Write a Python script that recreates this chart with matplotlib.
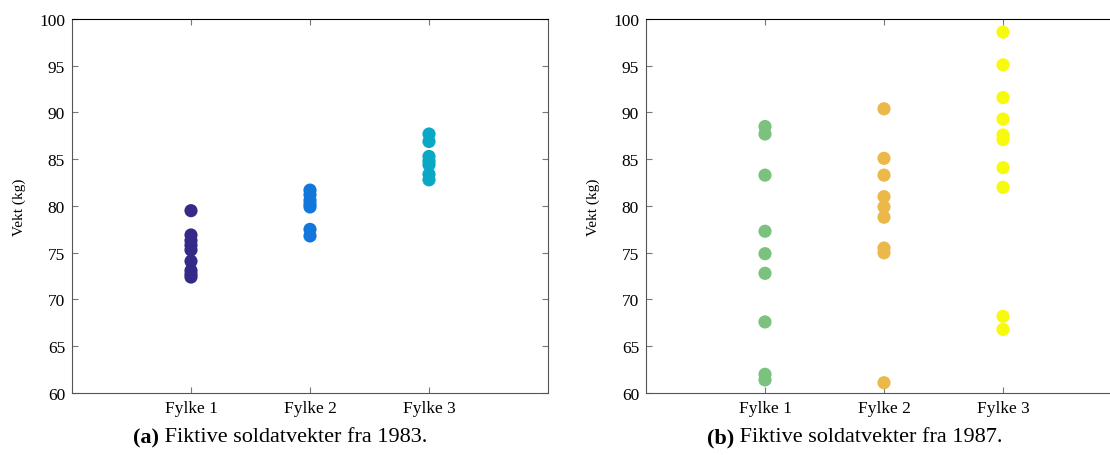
import matplotlib
matplotlib.use("Agg")
import matplotlib.pyplot as plt

plt.rcParams['font.family'] = ['Liberation Serif', 'DejaVu Serif']

# data
fylker = ['Fylke 1', 'Fylke 2', 'Fylke 3']

vekt_1983 = [
    [79.5, 76.9, 76.3, 75.8, 75.3, 74.1, 73.1, 72.7, 72.4],
    [81.7, 81.2, 80.6, 80.2, 79.9, 77.5, 76.8],
    [87.7, 86.9, 85.3, 84.8, 84.4, 83.4, 82.8],
]
vekt_1987 = [
    [88.5, 87.7, 83.3, 77.3, 74.9, 72.8, 67.6, 62.0, 61.4],
    [90.4, 85.1, 83.3, 81.0, 79.9, 78.8, 75.5, 75.0, 61.1],
    [98.6, 95.1, 91.6, 89.3, 87.6, 87.1, 84.1, 82.0, 68.2, 66.8],
]
farger_1983 = ['#352A87', '#1177DB', '#0AA8C4']
farger_1987 = ['#7BC27E', '#ECB84A', '#F8FA0D']
yticks = list(range(60, 101, 5))
captions = [('(a)', 'Fiktive soldatvekter fra 1983.'),
            ('(b)', 'Fiktive soldatvekter fra 1987.')]

fig = plt.figure(figsize=(11.1, 4.56), dpi=100)
ax1 = fig.add_axes((72 / 1110, 1 - 394 / 456, 476 / 1110, 374 / 456))
ax2 = fig.add_axes((646 / 1110, 1 - 394 / 456, 476 / 1110, 374 / 456))

for ax, data, farger, cap in zip([ax1, ax2], [vekt_1983, vekt_1987],
                                 [farger_1983, farger_1987], captions):
    for i, (verdier, c) in enumerate(zip(data, farger)):
        ax.scatter([i + 1] * len(verdier), verdier, s=90, color=c,
                   edgecolors='none', zorder=3)
    ax.set_xlim(0, 4)
    ax.set_ylim(60, 100)
    ax.set_xticks([1, 2, 3])
    ax.set_xticklabels(fylker)
    ax.set_yticks(yticks)
    ax.tick_params(direction='in', length=4.5, width=0.8, color='#777777',
                   top=True, right=True, labelsize=12.5, pad=5)
    for side in ['left', 'right', 'bottom']:
        ax.spines[side].set_color('#555555')
    ax.spines['top'].set_color('black')
    ax.set_ylabel('Vekt (kg)', fontsize=11)
    ax.yaxis.set_label_coords(-46 / 476, 0.5)

    # caption below each panel, bold label + normal text
    bb = ax.get_position()
    cx = (bb.x0 + bb.x1) / 2
    t = fig.text(cx - 177 / 1110, 1 - 438 / 456, cap[0], fontsize=16,
                 fontweight='bold', ha='left', va='center')
    ax.annotate(' ' + cap[1], xy=(1, 0.5), xycoords=t, fontsize=16,
                ha='left', va='center', annotation_clip=False)

fig.savefig('out.png', dpi=100)
